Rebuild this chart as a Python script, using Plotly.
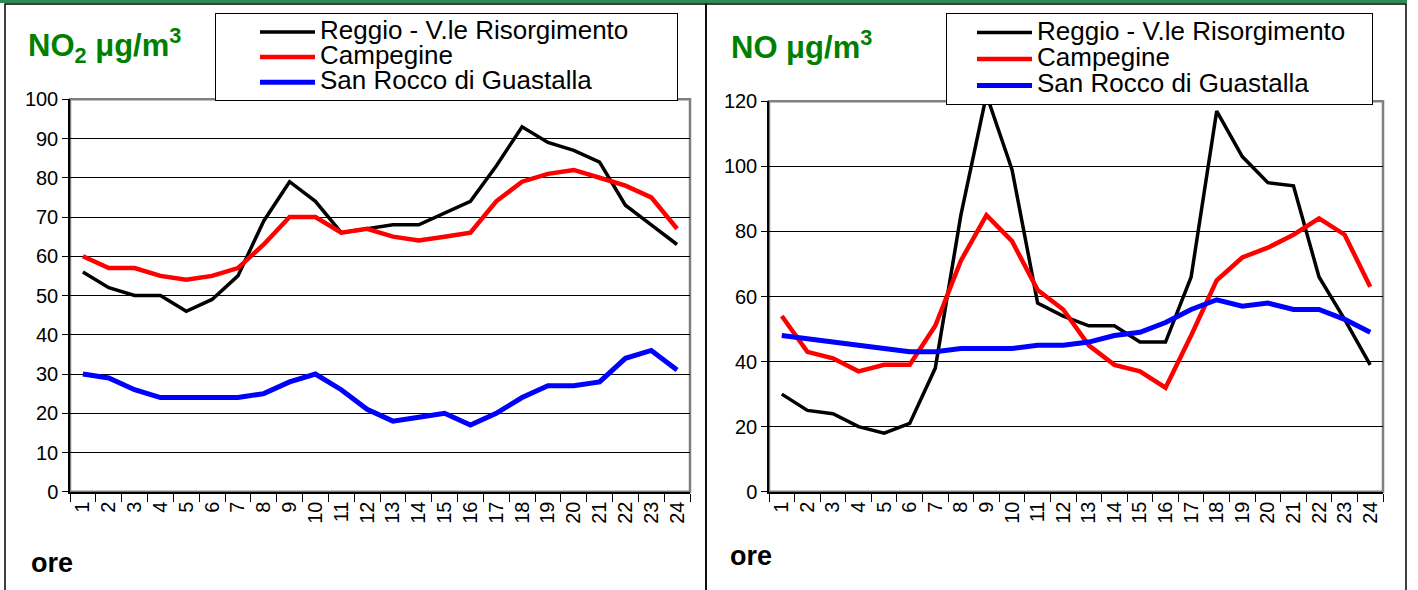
import plotly.graph_objects as go

hours = [str(h) for h in range(1, 25)]

# NO2 (left)
no2_reggio = [56, 52, 50, 50, 46, 49, 55, 69, 79, 74, 66, 67, 68, 68, 71, 74, 83, 93, 89, 87, 84, 73, 68, 63]
no2_campegine = [60, 57, 57, 55, 54, 55, 57, 63, 70, 70, 66, 67, 65, 64, 65, 66, 74, 79, 81, 82, 80, 78, 75, 67]
no2_sanrocco = [30, 29, 26, 24, 24, 24, 24, 25, 28, 30, 26, 21, 18, 19, 20, 17, 20, 24, 27, 27, 28, 34, 36, 31]

# NO (right)
no_reggio = [30, 25, 24, 20, 18, 21, 38, 85, 122, 99, 58, 54, 51, 51, 46, 46, 66, 117, 103, 95, 94, 66, 53, 39]
no_campegine = [54, 43, 41, 37, 39, 39, 51, 71, 85, 77, 62, 56, 45, 39, 37, 32, 48, 65, 72, 75, 79, 84, 79, 63]
no_sanrocco = [48, 47, 46, 45, 44, 43, 43, 44, 44, 44, 45, 45, 46, 48, 49, 52, 56, 59, 57, 58, 56, 56, 53, 49]

series_names = ["Reggio - V.le Risorgimento", "Campegine", "San Rocco di Guastalla"]
series_colors = ["#000000", "#ff0000", "#0000ff"]
series_widths = [3.5, 4.5, 5]

W, H = 1418, 590
FONT = "Arial, Liberation Sans, sans-serif"
LEG_TEXT = 26
OFF, SC = 10.6, 0.964


def px(x):
    return x / W


def py(y):
    y_fig = (y - OFF) / SC
    return (H - y_fig) / H


def leg_name(n, pad=0):
    return '<span style="font-size:%dpx">%s%s</span>' % (LEG_TEXT, n, "&nbsp;" * pad)


fig = go.Figure()

left_data = [no2_reggio, no2_campegine, no2_sanrocco]
right_data = [no_reggio, no_campegine, no_sanrocco]
left_pad = [6, 0, 0]
right_pad = [3, 0, 0]

for vals, name, col, w, pd_ in zip(left_data, series_names, series_colors, series_widths, left_pad):
    fig.add_trace(go.Scatter(x=hours, y=vals, mode="lines", name=leg_name(name, pd_),
                             line=dict(color=col, width=w), xaxis="x", yaxis="y",
                             legend="legend"))
for vals, name, col, w, pd_ in zip(right_data, series_names, series_colors, series_widths, right_pad):
    fig.add_trace(go.Scatter(x=hours, y=vals, mode="lines", name=leg_name(name, pd_),
                             line=dict(color=col, width=w), xaxis="x2", yaxis="y2",
                             legend="legend2"))

xcommon = dict(type="category", tickson="boundaries", ticks="outside", ticklen=8,
               tickcolor="black", tickwidth=1, tickangle=-90, showline=True,
               linecolor="black", linewidth=1.5, showgrid=False,
               tickfont=dict(family=FONT, size=20, color="black"),
               range=[-0.5, 23.5], fixedrange=True)
ycommon = dict(ticks="outside", ticklen=6, tickcolor="black", tickwidth=1,
               showline=True, linecolor="black", linewidth=1.5, showgrid=True,
               gridcolor="black", gridwidth=1, zeroline=False,
               tickfont=dict(family=FONT, size=20, color="black"), fixedrange=True)

legcommon = dict(bgcolor="white", bordercolor="black", borderwidth=1,
                 xanchor="left", yanchor="top", itemwidth=55, tracegroupgap=0)

fig.update_layout(
    width=W, height=H,
    margin=dict(l=0, r=0, t=0, b=0),
    paper_bgcolor="white", plot_bgcolor="white",
    showlegend=True,
    xaxis=dict(domain=[px(70), px(690)], anchor="y", **xcommon),
    yaxis=dict(domain=[py(492), py(99)], anchor="x", range=[0, 100], dtick=10, **ycommon),
    xaxis2=dict(domain=[px(769), px(1383)], anchor="y2", **xcommon),
    yaxis2=dict(domain=[py(492), py(101)], anchor="x2", range=[0, 120], dtick=20, **ycommon),
    legend=dict(x=px(215), y=py(13), indentation=39,
                font=dict(family=FONT, size=17, color="black"), **legcommon),
    legend2=dict(x=px(946), y=py(13), indentation=25,
                 font=dict(family=FONT, size=18, color="black"), **legcommon),
)

shapes = []
# panel frames
shapes.append(dict(type="rect", xref="paper", yref="paper", x0=px(5), x1=px(706),
                   y0=-0.06, y1=py(3.5), line=dict(color="black", width=1.5), layer="below"))
shapes.append(dict(type="rect", xref="paper", yref="paper", x0=px(706), x1=px(1406),
                   y0=-0.06, y1=py(3.5), line=dict(color="black", width=1.5), layer="below"))
# green line at top
shapes.append(dict(type="line", xref="paper", yref="paper", x0=0, x1=px(1407),
                   y0=py(1), y1=py(1), line=dict(color="#2e8b57", width=3)))
# gray plot-area frames
for xr, yr in (("x domain", "y domain"), ("x2 domain", "y2 domain")):
    shapes.append(dict(type="rect", xref=xr, yref=yr, x0=0, x1=1, y0=0, y1=1,
                       line=dict(color="#808080", width=2.5), layer="below"))
fig.update_layout(shapes=shapes)

annotations = [
    dict(text="<b>NO<sub>2</sub> μg/m<sup>3</sup></b>", x=px(26), y=py(45), xref="paper", yref="paper",
         xanchor="left", yanchor="middle", showarrow=False,
         font=dict(family=FONT, size=31, color="#008000")),
    dict(text="<b>NO μg/m<sup>3</sup></b>", x=px(729), y=py(45), xref="paper", yref="paper",
         xanchor="left", yanchor="middle", showarrow=False,
         font=dict(family=FONT, size=31, color="#008000")),
    dict(text="<b>ore</b>", x=px(29), y=py(563), xref="paper", yref="paper",
         xanchor="left", yanchor="middle", showarrow=False,
         font=dict(family=FONT, size=27, color="black")),
    dict(text="<b>ore</b>", x=px(728), y=py(556), xref="paper", yref="paper",
         xanchor="left", yanchor="middle", showarrow=False,
         font=dict(family=FONT, size=27, color="black")),
]
fig.update_layout(annotations=annotations)

post = ("document.body.style.margin='0';document.body.style.overflow='hidden';"
        "var d=document.getElementById('{plot_id}');d.style.position='absolute';"
        "d.style.left='0px';d.style.top='0px';")
fig.write_html("out.html", post_script=post, config={"displayModeBar": False})
